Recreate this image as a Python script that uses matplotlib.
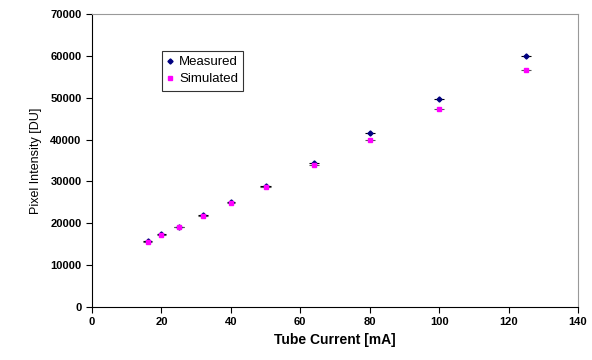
import matplotlib
matplotlib.use("Agg")
import matplotlib.pyplot as plt
from matplotlib.lines import Line2D

current = [16, 20, 25, 32, 40, 50, 64, 80, 100, 125]
measured = [15800, 17500, 19200, 22000, 25000, 29000, 34500, 41600, 49800, 60000]
simulated = [15600, 17300, 19000, 21800, 24800, 28700, 33900, 39900, 47300, 56700]
x_err = [1.2, 1.2, 1.5, 1.5, 1.2, 1.5, 1.5, 1.5, 1.5, 1.5]

plt.rcParams['font.family'] = ['Liberation Sans', 'DejaVu Sans']

fig = plt.figure(figsize=(5.92, 3.6), dpi=100)
ax = fig.add_axes([0.1554, 0.1472, 0.8210, 0.8139])

ax.errorbar(current, measured, xerr=x_err, fmt="D", color="#000080", ecolor="black",
            elinewidth=0.8, capsize=0, markersize=2.6)
ax.errorbar(current, simulated, xerr=x_err, fmt="s", color="#ff00ff", ecolor="#555555",
            elinewidth=0.8, capsize=0, markersize=3.4)

ax.set_xlim(0, 140)
ax.set_ylim(0, 70000)
ax.set_xticks(range(0, 141, 20))
ax.set_yticks(range(0, 70001, 10000))
ax.tick_params(direction="out", length=4, width=0.8, labelsize=8)
for lab in ax.get_xticklabels() + ax.get_yticklabels():
    lab.set_fontweight("bold")

ax.spines["left"].set_color("black")
ax.spines["bottom"].set_color("black")
ax.spines["top"].set_color("#999999")
ax.spines["right"].set_color("#999999")

ax.set_xlabel("Tube Current [mA]", fontsize=10, fontweight="bold", labelpad=4)
ax.set_ylabel("Pixel Intensity [DU]", fontsize=9, labelpad=6)

handles = [Line2D([], [], ls="none", marker="D", color="#000080", markersize=2.6),
           Line2D([], [], ls="none", marker="s", color="#ff00ff", markersize=3.4)]
leg = ax.legend(handles, ["Measured", "Simulated"], loc="upper left",
                bbox_to_anchor=(0.144, 0.874), borderaxespad=0, fontsize=9.5,
                frameon=True, fancybox=False, edgecolor="black", handlelength=0.4,
                handletextpad=0.5, borderpad=0.4, labelspacing=0.35)
leg.get_frame().set_linewidth(0.8)

fig.savefig("out.png", dpi=100)
